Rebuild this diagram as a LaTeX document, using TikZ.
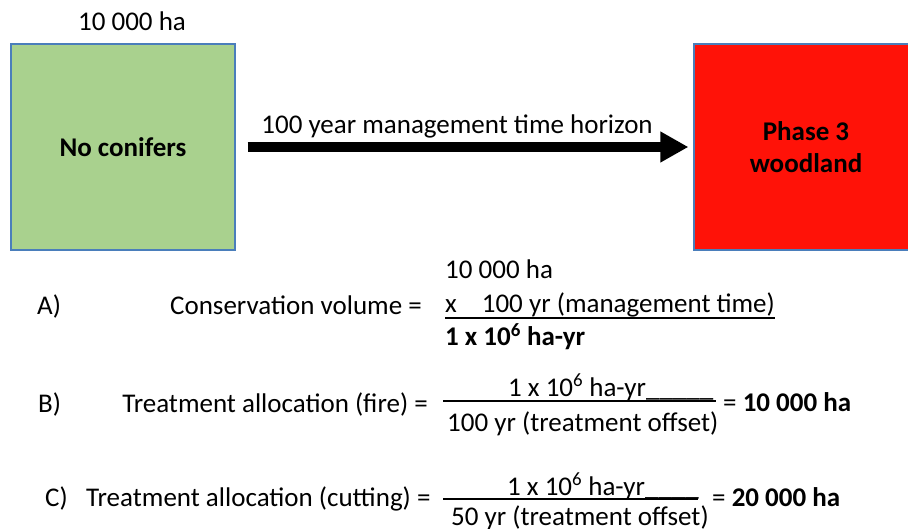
\documentclass[tikz,border=0pt]{standalone}
\usepackage{fontspec}
\setmainfont{Carlito}
\usetikzlibrary{arrows.meta}
\definecolor{boxgreen}{HTML}{A9D18E}
\definecolor{boxred}{HTML}{FF1208}
\definecolor{boxedge}{HTML}{4A7EBB}
\begin{document}
\begin{tikzpicture}[x=1pt,y=-1pt,
  txt/.style={inner sep=0pt,font=\fontsize{27}{32}\selectfont},
  btxt/.style={inner sep=0pt,font=\fontsize{27}{32}\selectfont\bfseries},
  areabox/.style={draw=boxedge,line width=1.2pt,inner sep=0pt,minimum width=224pt,minimum height=206pt},
  rulestyle/.style={line width=1.3pt}]
\useasboundingbox (0,0) rectangle (908,529);
\begin{scope}
\clip (0,0) rectangle (908,529);
% boxes
\node[areabox,fill=boxgreen] (g) at (123,147) {};
\node[areabox,fill=boxred] (r) at (806,147) {};
\end{scope}
\node[btxt] (gt) at (g.center) {No conifers};
\node[btxt,align=center,font=\fontsize{27}{32}\selectfont\bfseries] (rt) at (r.center) {Phase 3\\woodland};
\node[txt,anchor=base] (area) at (132,31) {10 000 ha};
% arrow
\draw[line width=10pt,-{Triangle[length=28pt,width=29pt]},shorten <=12pt,shorten >=5pt] (g.east) -- (r.west);
\node[txt,anchor=base] (horizon) at (457,134) {100 year management time horizon};
% A
\node[txt,anchor=base west] (A) at (37,315) {A)};
\node[txt,anchor=base east] (Alab) at (422,315) {Conservation volume =};
\node[txt,anchor=base west] (A1) at (445,279) {10 000 ha};
\node[txt,anchor=base west] (A2) at (445,313) {x\hspace{25pt}100 yr (management time)};
\node[btxt,anchor=base west] (A3) at (445,346) {1 x 10\textsuperscript{6} ha-yr};
\draw[rulestyle] (A2.base west) ++(0,5) coordinate (ua) -- (A2.base east |- ua);
% B
\node[txt,anchor=base west] (B) at (38,413) {B)};
\node[txt,anchor=base east] (Blab) at (428,413) {Treatment allocation (fire) =};
\coordinate (bl) at (443,401);
\coordinate (br) at (716,401);
\draw[rulestyle] (bl) -- (br);
\node[txt,anchor=base west] (Bnum) at (508,396) {1 x 10\textsuperscript{6} ha-yr\_\_\_\_\_};
\node[txt,anchor=base west] (Bden) at (447,431) {100 yr (treatment offset)};
\node[txt,anchor=base west] (Bres) at (723,411) {= \textbf{10 000 ha}};
% C
\node[txt,anchor=base west] (C) at (45,506) {C)};
\node[txt,anchor=base west] (Clab) at (86,506) {Treatment allocation (cutting) =};
\coordinate (cl) at (443,499);
\coordinate (cr) at (698,499);
\draw[rulestyle] (cl) -- (cr);
\node[txt,anchor=base west] (Cnum) at (507,495) {1 x 10\textsuperscript{6} ha-yr\_\_\_\_};
\node[txt,anchor=base west] (Cden) at (451,525) {50 yr (treatment offset)};
\node[txt,anchor=base west] (Cres) at (712,506) {= \textbf{20 000 ha}};
\end{tikzpicture}
\end{document}
